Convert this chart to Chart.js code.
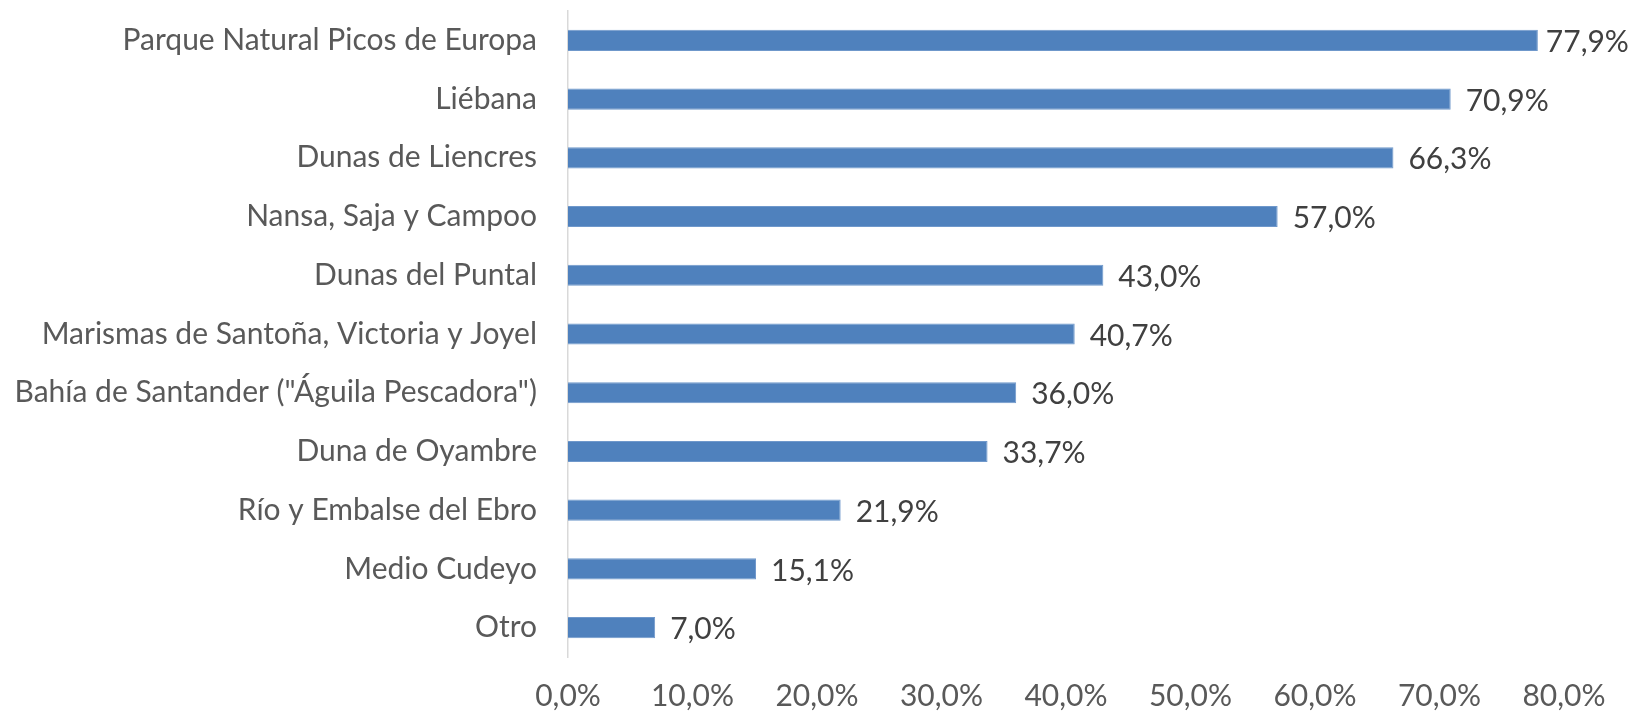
<!DOCTYPE html>
<html>
<head>
<meta charset="utf-8">
<script src="https://cdn.jsdelivr.net/npm/chart.js@4/dist/chart.umd.min.js"></script>
<style>
  html, body { margin: 0; padding: 0; background: #fff; }
</style>
</head>
<body>
<canvas id="myChart" width="1630" height="712"></canvas>
<script>
const CHART = document.getElementById('myChart');

const categories = [
    'Parque Natural Picos de Europa',
    'Liébana',
    'Dunas de Liencres',
    'Nansa, Saja y Campoo',
    'Dunas del Puntal',
    'Marismas de Santoña, Victoria y Joyel',
    'Bahía de Santander ("Águila Pescadora")',
    'Duna de Oyambre',
    'Río y Embalse del Ebro',
    'Medio Cudeyo',
    'Otro'
];
const percentages = [77.9, 70.9, 66.3, 57.0, 43.0, 40.7, 36.0, 33.7, 21.9, 15.1, 7.0];
const xTicks = [0, 10, 20, 30, 40, 50, 60, 70, 80];

const FONT = 'Lato, "Open Sans", sans-serif';
const fmt = (v) => v.toFixed(1).replace('.', ',') + '%';

// draw "77,9%" style labels right of each bar, pulled in a bit if they would run off the canvas
const barLabels = {
    id: 'barLabels',
    afterDatasetsDraw(chart) {
        const ctx = chart.ctx;
        const meta = chart.getDatasetMeta(0);
        ctx.save();
        ctx.font = '30px ' + FONT;
        ctx.fillStyle = '#404040';
        ctx.textAlign = 'left';
        ctx.textBaseline = 'middle';
        meta.data.forEach((bar, i) => {
            const txt = fmt(percentages[i]);
            const w = ctx.measureText(txt).width;
            const x = Math.max(bar.x + 8, Math.min(bar.x + 15, chart.width - 4 - w));
            ctx.fillText(txt, x, bar.y + 2);
        });
        ctx.restore();
    }
};

let barChart = new Chart(CHART, {
    type: 'bar',
    data: {
        labels: categories,
        datasets: [
            {
                label: '%',
                backgroundColor: '#4f81bd',
                borderColor: '#6f98cb',
                borderWidth: 1,
                data: percentages,
                barPercentage: 0.36,
                categoryPercentage: 1
            }
        ]
    },
    options: {
        indexAxis: 'y',
        responsive: false,
        animation: false,
        layout: { padding: { top: 11, right: 66, bottom: 0, left: 0 } },
        plugins: {
            legend: { display: false },
            tooltip: { enabled: false }
        },
        scales: {
            x: {
                min: 0,
                max: 80,
                afterBuildTicks: (axis) => { axis.ticks = xTicks.map((v) => ({ value: v })); },
                afterFit: (axis) => { axis.paddingLeft = 0; axis.paddingRight = 0; axis.height = 55; },
                grid: { display: false, drawTicks: false },
                border: { display: false },
                ticks: {
                    padding: 21,
                    color: '#595959',
                    font: { family: FONT, size: 30 },
                    callback: (v) => fmt(v)
                }
            },
            y: {
                afterFit: (axis) => { axis.paddingTop = 0; axis.paddingBottom = 0; axis.width = 568; },
                grid: { display: false, drawTicks: false },
                border: { display: true, color: '#d9d9d9', width: 1.5 },
                ticks: {
                    padding: 31,
                    color: '#595959',
                    font: { family: FONT, size: 30 }
                }
            }
        }
    },
    plugins: [barLabels]
});
</script>
</body>
</html>
